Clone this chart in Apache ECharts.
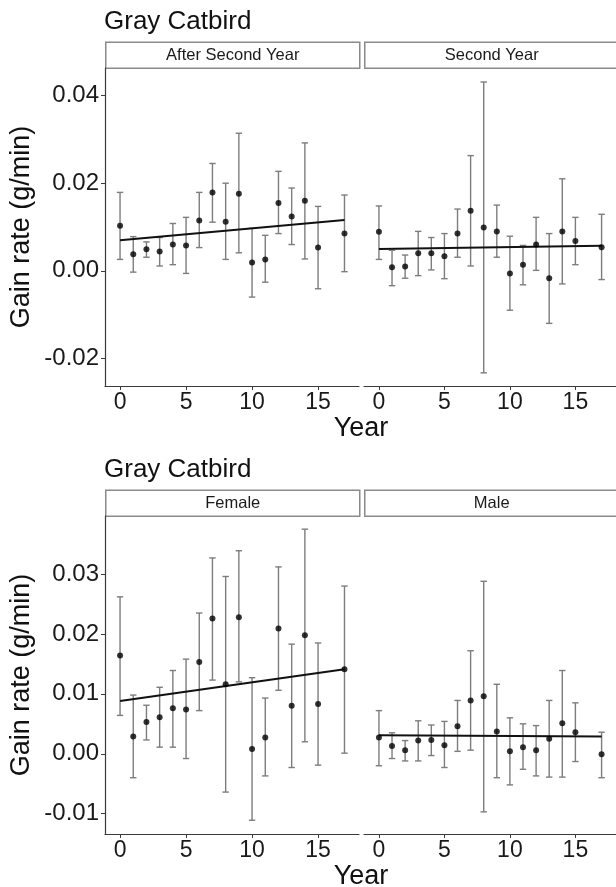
<!DOCTYPE html>
<html>
<head>
<meta charset="utf-8">
<script src="https://cdn.jsdelivr.net/npm/echarts@6/dist/echarts.min.js"></script>
<style>
html,body{margin:0;padding:0;background:#fff;}
#chart{width:616px;height:887px;}
</style>
</head>
<body>
<div id="chart"></div>
<script>
// ---------- data ----------
const years = [0,1,2,3,4,5,6,7,8,9,10,11,12,13,14,15,17];
const xTicks = [0,5,10,15];
const trendX = [0,17];

// After Second Year
const asyMean = [0.0103,0.0038,0.0049,0.0044,0.0060,0.0058,0.0115,0.0179,0.0112,0.0176,0.0019,0.0026,0.0155,0.0124,0.0160,0.0053,0.0085];
const asyHigh = [0.0179,0.0078,0.0066,0.0076,0.0108,0.0122,0.0179,0.0245,0.0200,0.0314,0.0097,0.0081,0.0227,0.0189,0.0292,0.0147,0.0173];
const asyLow  = [0.0026,-0.0003,0.0031,0.0011,0.0014,-0.0006,0.0053,0.0111,0.0026,0.0041,-0.0060,-0.0026,0.0085,0.0060,0.0027,-0.0041,-0.0002];
const asyTrend = [0.0070,0.0116];

// Second Year
const syMean = [0.0089,0.0008,0.0010,0.0040,0.0040,0.0033,0.0085,0.0137,0.0099,0.0090,-0.0006,0.0014,0.0060,-0.0017,0.0090,0.0068,0.0054];
const syHigh = [0.0148,0.0047,0.0036,0.0090,0.0076,0.0085,0.0141,0.0263,0.0431,0.0150,0.0079,0.0058,0.0122,0.0085,0.0210,0.0122,0.0129];
const syLow  = [0.0026,-0.0034,-0.0017,-0.0011,0.0002,-0.0018,0.0031,0.0011,-0.0233,0.0031,-0.0090,-0.0032,0.0001,-0.0120,-0.0030,0.0014,-0.0020];
const syTrend = [0.0050,0.0057];

// Female
const femMean = [0.0164,0.0029,0.0053,0.0061,0.0076,0.0074,0.0153,0.0226,0.0116,0.0228,0.0008,0.0027,0.0209,0.0080,0.0198,0.0083,0.0141];
const femHigh = [0.0262,0.0098,0.0081,0.0111,0.0139,0.0158,0.0235,0.0327,0.0296,0.0339,0.0127,0.0093,0.0312,0.0183,0.0375,0.0185,0.0280];
const femLow  = [0.0064,-0.0040,0.0023,0.0011,0.0011,-0.0008,0.0072,0.0123,-0.0064,0.0120,-0.0111,-0.0037,0.0106,-0.0023,0.0020,-0.0019,0.0001];
const femTrend = [0.0088,0.0141];

// Male
const maleMean = [0.0027,0.0013,0.0006,0.0022,0.0023,0.0014,0.0046,0.0089,0.0096,0.0037,0.0004,0.0011,0.0006,0.0025,0.0051,0.0036,-0.0001];
const maleHigh = [0.0072,0.0035,0.0022,0.0055,0.0048,0.0054,0.0089,0.0172,0.0288,0.0116,0.0060,0.0050,0.0047,0.0089,0.0139,0.0085,0.0036];
const maleLow  = [-0.0020,-0.0008,-0.0012,-0.0012,-0.0003,-0.0023,0.0004,0.0006,-0.0097,-0.0040,-0.0052,-0.0026,-0.0037,-0.0039,-0.0039,-0.0013,-0.0040];
const maleTrend = [0.0031,0.0029];

const topTicks = [-0.02,0,0.02,0.04];
const botTicks = [-0.01,0,0.01,0.02,0.03];
const titleText = 'Gray Catbird';
const stripLabels = ['After Second Year','Second Year','Female','Male'];
const yName = 'Gain rate (g/min)';
const xName = 'Year';

// ---------- layout ----------
const FONT = 'Liberation Sans, Arial, sans-serif';
const panels = [
  {left:105, top:68, h:318, mean:asyMean, lo:asyLow, hi:asyHigh, trend:asyTrend, ymin:-0.0263, ymax:0.0463, ticks:topTicks, showY:true},
  {left:364, top:68, h:318, mean:syMean, lo:syLow, hi:syHigh, trend:syTrend, ymin:-0.0263, ymax:0.0463, ticks:topTicks, showY:false},
  {left:105, top:516, h:318, mean:femMean, lo:femLow, hi:femHigh, trend:femTrend, ymin:-0.0134, ymax:0.0397, ticks:botTicks, showY:true},
  {left:364, top:516, h:318, mean:maleMean, lo:maleLow, hi:maleHigh, trend:maleTrend, ymin:-0.0134, ymax:0.0397, ticks:botTicks, showY:false}
];
const PW = 254;
const axisCol = '#3a3a3a';
const barCol = '#7d7d7d';

function errRender(params, api){
  const x = api.value(0), lo = api.value(1), hi = api.value(2);
  const a = api.coord([x, hi]), b = api.coord([x, lo]);
  const w = 3.2;
  const st = {stroke: barCol, lineWidth: 1.4};
  return {type:'group', children:[
    {type:'line', shape:{x1:a[0],y1:a[1],x2:b[0],y2:b[1]}, style:st},
    {type:'line', shape:{x1:a[0]-w,y1:a[1],x2:a[0]+w,y2:a[1]}, style:st},
    {type:'line', shape:{x1:b[0]-w,y1:b[1],x2:b[0]+w,y2:b[1]}, style:st}
  ]};
}

const grid = [], xAxis = [], yAxis = [], series = [], graphic = [];
panels.forEach((p, i) => {
  grid.push({left:p.left, top:p.top, width:PW, height:p.h});
  xAxis.push({
    type:'value', gridIndex:i, min:-1.14, max:18.1,
    axisLine:{show:true, onZero:false, lineStyle:{color:axisCol, width:1.2}},
    axisTick:{show:true, customValues:xTicks, length:4, lineStyle:{color:axisCol, width:1}},
    axisLabel:{show:true, customValues:xTicks, fontSize:23, fontFamily:FONT, color:'#1a1a1a', margin:5},
    splitLine:{show:false}
  });
  yAxis.push({
    type:'value', gridIndex:i, min:p.ymin, max:p.ymax,
    name: p.showY ? yName : '', nameLocation:'middle', nameGap:70,
    nameTextStyle:{fontSize:27, fontFamily:FONT, color:'#111'},
    axisLine:{show:p.showY, onZero:false, lineStyle:{color:axisCol, width:1.2}},
    axisTick:{show:p.showY, customValues:p.ticks, length:4, lineStyle:{color:axisCol, width:1}},
    axisLabel:{show:p.showY, customValues:p.ticks, fontSize:24, fontFamily:FONT, color:'#1a1a1a', margin:6,
      formatter: v => (Math.abs(v) < 1e-9 ? 0 : v).toFixed(2)},
    splitLine:{show:false}
  });
  series.push({
    type:'custom', xAxisIndex:i, yAxisIndex:i, renderItem:errRender,
    data: years.map((y, k) => [y, p.lo[k], p.hi[k]]), encode:{x:0, y:[1,2]}, silent:true, z:2
  });
  series.push({
    type:'line', xAxisIndex:i, yAxisIndex:i, data: trendX.map((x, k) => [x, p.trend[k]]),
    symbol:'none', lineStyle:{color:'#111', width:2}, silent:true, z:3
  });
  series.push({
    type:'scatter', xAxisIndex:i, yAxisIndex:i, data: years.map((y, k) => [y, p.mean[k]]),
    symbol:'circle', symbolSize:6, itemStyle:{color:'#000'}, silent:true, z:4
  });
  // strip
  graphic.push({
    type:'group', left:p.left, top:p.top - 26.5,
    children:[
      {type:'rect', shape:{x:0, y:0, width:PW, height:26}, style:{fill:'#fff', stroke:'#8a8a8a', lineWidth:1.5}},
      {type:'text', x:PW/2, y:13.5, style:{text:stripLabels[i], fill:'#1a1a1a', font:'16.5px ' + FONT, align:'center', verticalAlign:'middle'}}
    ]
  });
});

graphic.push({type:'text', x:361, y:429, style:{text:xName, fill:'#111', font:'27px ' + FONT, align:'center', verticalAlign:'middle'}});
graphic.push({type:'text', x:361, y:877, style:{text:xName, fill:'#111', font:'27px ' + FONT, align:'center', verticalAlign:'middle'}});

const option = {
  backgroundColor:'#fff',
  animation:false,
  title:[
    {text:titleText, left:104, top:9, padding:0, textStyle:{fontSize:26, fontWeight:'normal', fontFamily:FONT, color:'#111'}},
    {text:titleText, left:104, top:457, padding:0, textStyle:{fontSize:26, fontWeight:'normal', fontFamily:FONT, color:'#111'}}
  ],
  grid, xAxis, yAxis, series, graphic
};
const chart = echarts.init(document.getElementById('chart'), null, {renderer:'canvas'});
chart.setOption(option);
</script>
</body>
</html>
